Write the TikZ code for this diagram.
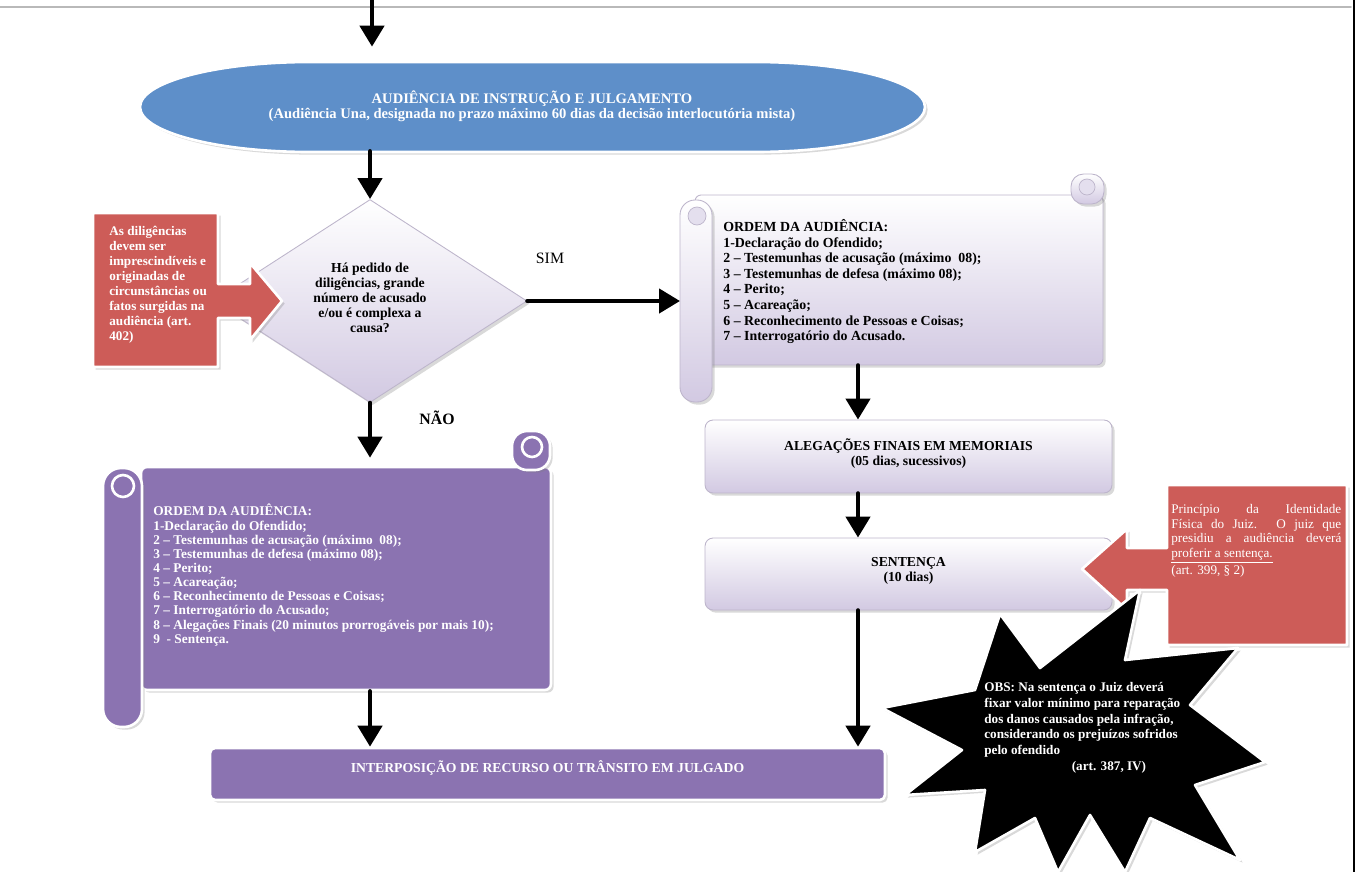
\documentclass[tikz,border=0pt]{standalone}
\usepackage{fontspec}
\setmainfont{Liberation Serif}
\usetikzlibrary{arrows.meta,shapes.geometric,shadows}

\definecolor{azulA}{HTML}{5E8FC9}
\definecolor{roxoB}{HTML}{8B73B1}
\definecolor{vermC}{HTML}{CD5C58}
\definecolor{lilas}{HTML}{D2C9E2}
\definecolor{bordaL}{HTML}{BDB5CB}

\newcommand{\fonte}{\fontsize{7.8}{8.5}\selectfont}

\tikzset{
  seta/.style={line width=0.09cm, -{Triangle[width=0.48cm,length=0.42cm]}},
  sombra/.style={drop shadow={opacity=0.3, shadow xshift=1.5pt, shadow yshift=-1.5pt}},
  lilasbox/.style={draw=bordaL, line width=0.5pt, top color=white, bottom color=lilas, sombra},
  roxobox/.style={draw=white, line width=1.5pt, fill=roxoB, sombra},
  vermbox/.style={draw=white, line width=1.5pt, fill=vermC, sombra},
  texto/.style={font=\fonte\bfseries, inner sep=0pt},
}

\begin{document}
\begin{tikzpicture}[x=0.02cm, y=-0.02cm, line cap=round, line join=round]
  \useasboundingbox (0,0) rectangle (1359,872);

  % --- bordas da página ---
  \draw[gray!55, line width=1pt] (0,7) -- (1351,7);
  \draw[line width=1.3pt] (1354,0) -- (1354,872);

  % --- audiência de instrução (elipse) ---
  \path[fill=azulA, draw=white, line width=1.5pt, sombra]
    (310,62) -- (755,62) .. controls (849,62) and (925,82) .. (925,107)
    .. controls (925,132) and (849,152) .. (755,152) -- (310,152)
    .. controls (216,152) and (140,132) .. (140,107)
    .. controls (140,82) and (216,62) .. (310,62) -- cycle;
  \node[texto, font=\fontsize{8.3}{8.5}\selectfont\bfseries, text=white, align=center,
        minimum width=15.7cm, minimum height=1.8cm] (aij) at (532,106)
    {AUDIÊNCIA DE INSTRUÇÃO E JULGAMENTO\\(Audiência Una, designada no prazo máximo 60 dias da decisão interlocutória mista)};
  \coordinate (inicio) at (372,0);

  % --- decisão ---
  \node[diamond, aspect=1.5, lilasbox, minimum width=6.28cm, minimum height=4.06cm,
        texto, align=center] (q) at (370,301)
    {Há pedido de\\diligências, grande\\número de acusado\\e/ou é complexa a\\causa?\\[-5pt]\mbox{}};

  % --- chamada vermelha (art. 402) ---
  \path[vermbox] (93,213) -- (218,213) -- (218,284) -- (250,284) -- (250,263) -- (282,301)
    -- (250,340) -- (250,318) -- (218,318) -- (218,367) -- (93,367) -- cycle;
  \node[texto, font=\fontsize{7.5}{8.5}\selectfont\bfseries, text=white, anchor=north west,
        align=left] (dil) at (109,226)
    {As diligências\\devem ser\\imprescindíveis e\\originadas de\\circunstâncias ou\\fatos surgidas na\\audiência (art.\\402)};

  \node[font=\fontsize{9}{10}\selectfont] (sim) at (550,258) {SIM};
  \node[font=\fontsize{9}{10}\selectfont\bfseries] (nao) at (437,418) {NÃO};

  % --- pergaminho da direita ---
  \node[lilasbox, rounded corners=0.12cm, minimum width=8.16cm, minimum height=3.4cm] (ord1) at (899,280) {};
  \path[lilasbox, rounded corners=0.3cm] (680,200) rectangle (712,402);
  \draw[bordaL, fill=lilas!60] (697,216) circle (9);
  \path[lilasbox, rounded corners=0.25cm] (1071,174) rectangle (1104,204);
  \draw[bordaL, fill=lilas!60] (1087,187) circle (8);
  \coordinate (rolo) at (680,297);
  \coordinate (eixoD) at (858,0);
  \node[texto, font=\fontsize{7.9}{8.9}\selectfont\bfseries, anchor=north west, align=left] (ord1txt) at (723,219)
    {ORDEM DA AUDIÊNCIA:\\1-Declaração do Ofendido;\\2 – Testemunhas de acusação (máximo \ 08);\\3 – Testemunhas de defesa (máximo 08);\\4 – Perito;\\5 – Acareação;\\6 – Reconhecimento de Pessoas e Coisas;\\7 – Interrogatório do Acusado.};

  % --- alegações e sentença ---
  \node[lilasbox, rounded corners=0.16cm, minimum width=8.14cm, minimum height=1.46cm,
        texto, align=center] (ale) at (908.5,456.5) {ALEGAÇÕES FINAIS EM MEMORIAIS\\(05 dias, sucessivos)\\[-3pt]\mbox{}};
  \node[lilasbox, rounded corners=0.16cm, minimum width=8.14cm, minimum height=1.44cm,
        texto, align=center] (sen) at (908.5,574) {SENTENÇA\\(10 dias)\\[-3pt]\mbox{}};

  % --- chamada vermelha (art. 399) ---
  \path[vermbox] (1167,485) -- (1347,485) -- (1347,645) -- (1167,645) -- (1167,590) -- (1127,590)
    -- (1127,610) -- (1082,569) -- (1127,529) -- (1127,548) -- (1167,548) -- cycle;
  \node[font=\fontsize{7.5}{8.3}\selectfont, text=white, inner sep=0pt, anchor=north west,
        text width=3.4cm, align=justify] (prin) at (1171,504)
    {Princípio da Identidade Física do Juiz. O juiz que presidiu a audiência deverá \underline{proferir a sentença.}\\(art. 399, § 2)};

  % --- estrela (OBS) ---
  \path[fill=black, draw=white, line width=1.5pt, sombra]
    (1000,614) -- (1040,668) -- (1140,590) -- (1125,660) -- (1238,648) -- (1190,705)
    -- (1265,762) -- (1195,785) -- (1240,860) -- (1150,818) -- (1125,872) -- (1090,815)
    -- (1058,872) -- (1035,818) -- (975,852) -- (985,790) -- (905,795) -- (962,750)
    -- (882,708) -- (975,690) -- cycle;
  \node[texto, font=\fontsize{7.5}{9}\selectfont\bfseries, text=white, anchor=north west,
        align=left] (obs) at (984,682)
    {OBS: Na sentença o Juiz deverá\\fixar valor mínimo para reparação\\dos danos causados pela infração,\\considerando os prejuízos sofridos\\pelo ofendido\\\hspace*{1.75cm}(art. 387, IV)};

  % --- pergaminho da esquerda ---
  \node[roxobox, rounded corners=0.12cm, minimum width=8.2cm, minimum height=4.46cm] (ord2) at (346,578.5) {};
  \path[roxobox, rounded corners=0.36cm] (103,468) rectangle (142,727);
  \draw[white, line width=1.5pt, fill=roxoB] (123,486) circle (11);
  \path[roxobox, rounded corners=0.3cm] (512,431) rectangle (550,470);
  \draw[white, line width=1.5pt, fill=roxoB] (532,447) circle (10);
  \node[texto, font=\fontsize{7.6}{8.05}\selectfont\bfseries, text=white, anchor=north west,
        align=left] (ord2txt) at (153,504)
    {ORDEM DA AUDIÊNCIA:\\1-Declaração do Ofendido;\\2 – Testemunhas de acusação (máximo \ 08);\\3 – Testemunhas de defesa (máximo 08);\\4 – Perito;\\5 – Acareação;\\6 – Reconhecimento de Pessoas e Coisas;\\7 – Interrogatório do Acusado;\\8 – Alegações Finais (20 minutos prorrogáveis por mais 10);\\9 \ - Sentença.};

  % --- recurso ---
  \node[roxobox, rounded corners=0.1cm, minimum width=13.5cm, minimum height=1.04cm,
        texto, text=white, align=center] (rec) at (547.5,774) {INTERPOSIÇÃO DE RECURSO OU TRÂNSITO EM JULGADO\\\mbox{}};

  % --- setas ---
  \draw[seta, shorten >=0.28cm] (inicio) -- (inicio |- aij.north);
  \draw[seta] (aij.south -| q.north) -- (q.north);
  \draw[seta] (q.east) -- (q.east -| rolo);
  \draw[seta, shorten >=0.16cm] (q.south) -- (q.south |- ord2.north);
  \draw[seta] (ord1.south -| eixoD) -- (ale.north -| eixoD);
  \draw[seta] (ale.south -| eixoD) -- (sen.north -| eixoD);
  \draw[seta] (ord2.south -| q.south) -- (rec.north -| q.south);
  \draw[seta] (sen.south -| eixoD) -- (rec.north -| eixoD);
\end{tikzpicture}
\end{document}
